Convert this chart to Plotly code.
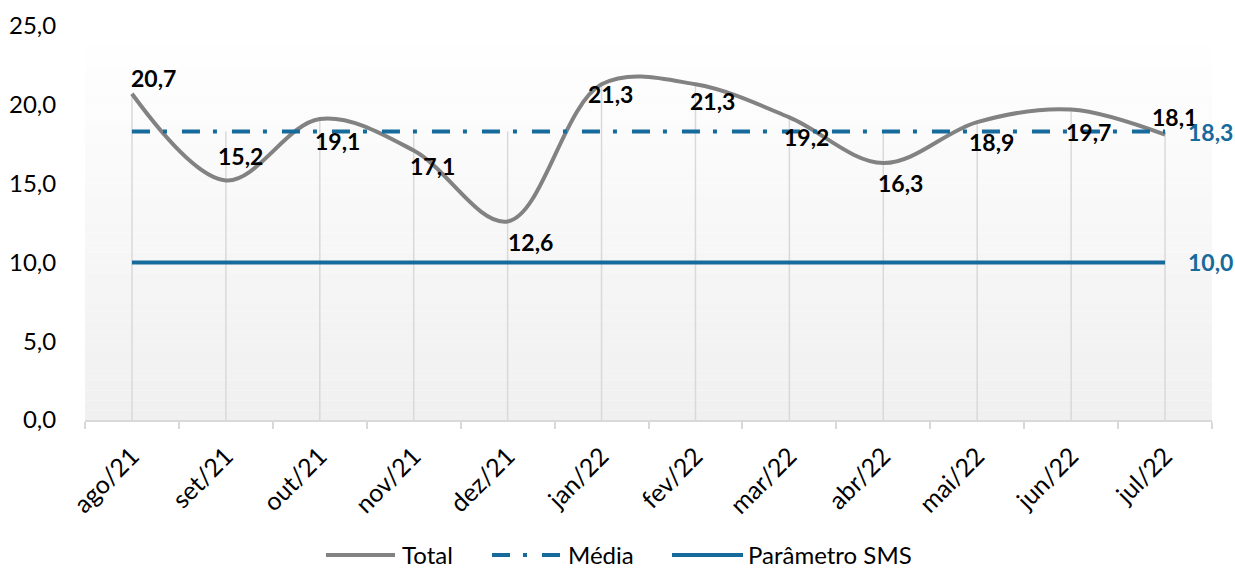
import plotly.graph_objects as go

months = ["ago/21", "set/21", "out/21", "nov/21", "dez/21", "jan/22",
          "fev/22", "mar/22", "abr/22", "mai/22", "jun/22", "jul/22"]
total = [20.7, 15.2, 19.1, 17.1, 12.6, 21.3, 21.3, 19.2, 16.3, 18.9, 19.7, 18.1]
media_value = 18.3
parametro_value = 10.0
y_ticks = [0, 5, 10, 15, 20, 25]
series_names = ["Total", "Média", "Parâmetro SMS"]

# label offsets (styling)
label_dx = [22, 15, 18, 19, 23, 9, 17, 17, 17, 14, 17, 9]
label_dy = [16, 24, -22, -15, -21, -10, -17, -20, -20, -20, -22, 18]

GREY = "#828282"
BLUE = "#166a9c"
GRID = "#d9d9d9"
FONT = "Lato"
MEDIA_DASH = "18px,13px,4px,15px"

W, H = 1235, 570
ML, MR, MT, MB = 85, 23, 26, 150
PW, PH = W - ML - MR, H - MT - MB

x = list(range(len(months)))
media = [media_value] * len(months)
param = [parametro_value] * len(months)

fig = go.Figure()

# gradient background for plot area
n = 40
for i in range(n):
    t = i / (n - 1)
    c = int(round(255 - (255 - 240) * (1 - t)))
    fig.add_shape(type="rect", xref="paper", yref="paper",
                  x0=0, x1=1, y0=i / n, y1=(i + 1) / n,
                  fillcolor=f"rgb({c},{c},{c})", line_width=0, layer="below")

# drop lines (from the highest series value down to the axis)
dx, dy = [], []
for i in x:
    top = max(total[i], media[i], param[i])
    dx += [i, i, None]
    dy += [top, 0, None]
fig.add_trace(go.Scatter(x=dx, y=dy, mode="lines", showlegend=False, hoverinfo="skip",
                         line=dict(color=GRID, width=1.5)))

styles = [
    dict(color=GREY, width=4, shape="spline", smoothing=1.0),
    dict(color=BLUE, width=4, dash=MEDIA_DASH),
    dict(color=BLUE, width=4),
]
for name, ys, st in zip(series_names, [total, media, param], styles):
    fig.add_trace(go.Scatter(x=x, y=ys, name=name, mode="lines", line=st,
                             showlegend=False))

for i, v in enumerate(total):
    fig.add_annotation(x=i, y=v, text=f"<b>{v:.1f}".replace(".", ",") + "</b>",
                       showarrow=False, xshift=label_dx[i], yshift=label_dy[i],
                       font=dict(family=FONT, size=23, color="black"))

for v in (media_value, parametro_value):
    fig.add_annotation(x=len(months) - 1, y=v,
                       text=f"<b>{v:.1f}".replace(".", ",") + "</b>",
                       showarrow=False, xanchor="left", xshift=21,
                       font=dict(family=FONT, size=23, color=BLUE))

# custom legend (long line symbols like the original)
def px_x(p):
    return (p - ML) / PW

def px_y(p):
    return (H - MB - p) / PH

legend_y = 555
legend_items = [  # (symbol start px, symbol end px, text start px)
    (326, 395, 402),
    (492, 560, 568),
    (672, 743, 748),
]
for name, st, (s0, s1, t0) in zip(series_names, styles, legend_items):
    fig.add_shape(type="line", xref="paper", yref="paper",
                  x0=px_x(s0), x1=px_x(s1), y0=px_y(legend_y), y1=px_y(legend_y),
                  line=dict(color=st["color"], width=4, dash=st.get("dash", "solid")))
    fig.add_annotation(xref="paper", yref="paper", x=px_x(t0), y=px_y(legend_y - 1),
                       text=name, showarrow=False, xanchor="left", yanchor="middle",
                       xshift=-2, font=dict(family=FONT, size=24, color="black"))

fig.update_layout(
    width=W, height=H,
    margin=dict(l=ML, r=MR, t=MT, b=MB, autoexpand=False),
    paper_bgcolor="white", plot_bgcolor="rgba(0,0,0,0)",
    font=dict(family=FONT, size=22, color="black"),
    separators=",.",
    showlegend=False,
)

fig.update_xaxes(
    range=[-0.5, len(months) - 0.5], automargin=False,
    tickmode="array", tickvals=x, ticktext=months, tickangle=-45,
    tickfont=dict(family=FONT, size=25),
    showgrid=False,
    showline=True, linecolor=GRID, linewidth=1.5,
    ticks="outside", ticklen=10, tickcolor="rgba(0,0,0,0)", zeroline=False,
    minor=dict(tickmode="array", tickvals=[i - 0.5 for i in range(len(months) + 1)],
               ticks="outside", ticklen=7, tickcolor=GRID, tickwidth=1.5,
               showgrid=False),
)
fig.update_yaxes(
    range=[0, 25], automargin=False, tickmode="array", tickvals=y_ticks, tickformat=".1f",
    showgrid=False, zeroline=False, showline=False,
    ticks="outside", ticklen=23, tickcolor="rgba(0,0,0,0)",
    tickfont=dict(family=FONT, size=24),
)

fig.write_html("out.html", config={"displayModeBar": False},
               post_script="document.body.style.margin='0px';")
